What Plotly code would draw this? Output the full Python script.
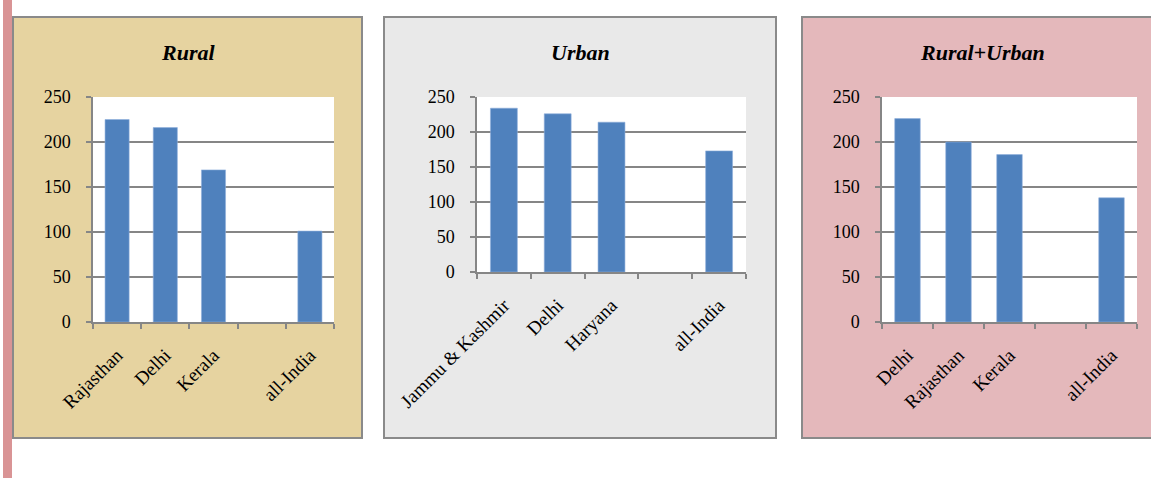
import plotly.graph_objects as go

W, H = 1151, 479

# ---- data ----
rural_cats = ["Rajasthan", "Delhi", "Kerala", " ", "all-India"]
rural_vals = [225, 216, 169, None, 101]

urban_cats = ["Jammu & Kashmir", "Delhi", "Haryana", " ", "all-India"]
urban_vals = [234, 226, 214, None, 173]

ru_cats = ["Delhi", "Rajasthan", "Kerala", " ", "all-India"]
ru_vals = [226, 200, 186, None, 138]

titles = ["Rural", "Urban", "Rural+Urban"]

# ---- layout geometry (pixels) ----
panels = [  # x0, x1, y0, y1 of panel box
    (13, 362, 17, 438),
    (384, 776, 17, 438),
    (802, 1170, 17, 438),
]
plots = [  # x0, x1, y_top, y_bottom of plot area
    (93, 334, 97, 322),
    (477, 746, 97, 272),
    (882, 1137, 97, 322),
]
panel_colors = ["#E6D3A0", "#E9E9E9", "#E4B8BB"]

BAR = "#4F81BD"
GRID = "#868686"
FONT = "Liberation Serif"

def px_x(v):
    return v / W

def px_y(v):
    return 1 - v / H

fig = go.Figure()
series = [(rural_cats, rural_vals), (urban_cats, urban_vals), (ru_cats, ru_vals)]

shapes = []
# left pink strip
shapes.append(dict(type="rect", xref="paper", yref="paper",
                   x0=px_x(3), x1=px_x(12), y0=px_y(478), y1=px_y(0),
                   fillcolor="#D99495", line=dict(width=0), layer="below"))

annotations = []
for i, ((cats, vals), (px0, px1, py0, py1), (ax0, ax1, ayt, ayb)) in enumerate(
        zip(series, panels, plots)):
    n = "" if i == 0 else str(i + 1)
    fig.add_trace(go.Bar(x=cats, y=vals, marker=dict(color=BAR, line=dict(color="#8EAEDB", width=0.6)),
                         width=0.5, xaxis="x" + n, yaxis="y" + n, showlegend=False,
                         hoverinfo="x+y"))
    fig.layout["xaxis" + n] = dict(
        domain=[px_x(ax0), px_x(ax1)], anchor="y" + n, type="category",
        categoryorder="array", categoryarray=cats, automargin=False,
        showline=True, linecolor=GRID, linewidth=1.5,
        ticks="outside", tickson="boundaries", ticklen=5, tickcolor=GRID, tickwidth=1.5,
        ticklabelstandoff=13,
        tickangle=-45, tickfont=dict(family=FONT, size=19, color="black"),
        showgrid=False, zeroline=False, fixedrange=True)
    fig.layout["yaxis" + n] = dict(
        domain=[px_y(ayb), px_y(ayt)], anchor="x" + n, range=[0, 250], dtick=50,
        automargin=False,
        showgrid=True, gridcolor=GRID, gridwidth=1.5,
        showline=True, linecolor=GRID, linewidth=1.5,
        ticks="outside", ticklen=5, tickcolor=GRID, tickwidth=1.5,
        ticklabelstandoff=12,
        tickfont=dict(family=FONT, size=18, color="black"),
        zeroline=False, fixedrange=True)
    shapes.append(dict(type="rect", xref="paper", yref="paper",
                       x0=px_x(px0), x1=px_x(px1), y0=px_y(py1), y1=px_y(py0),
                       fillcolor=panel_colors[i], line=dict(color="#8A8A8A", width=2),
                       layer="below"))
    shapes.append(dict(type="rect", xref="x" + n + " domain", yref="y" + n + " domain",
                       x0=0, x1=1, y0=0, y1=1, fillcolor="white",
                       line=dict(width=0), layer="below"))
    cx = (px0 + px1) / 2 if i < 2 else 983
    annotations.append(dict(text="<b><i>" + titles[i] + "</i></b>", xref="paper", yref="paper",
                            x=px_x(cx), y=px_y(52), xanchor="center", yanchor="middle",
                            showarrow=False, font=dict(family=FONT, size=22, color="black")))

fig.update_layout(
    width=W, height=H, margin=dict(l=0, r=0, t=0, b=0, autoexpand=False),
    paper_bgcolor="white", plot_bgcolor="white",
    shapes=shapes, annotations=annotations, showlegend=False, bargap=0.5,
)

fig.write_html("out.html", config={"displayModeBar": False},
               post_script="document.body.style.margin='0';document.body.style.overflow='hidden';")
